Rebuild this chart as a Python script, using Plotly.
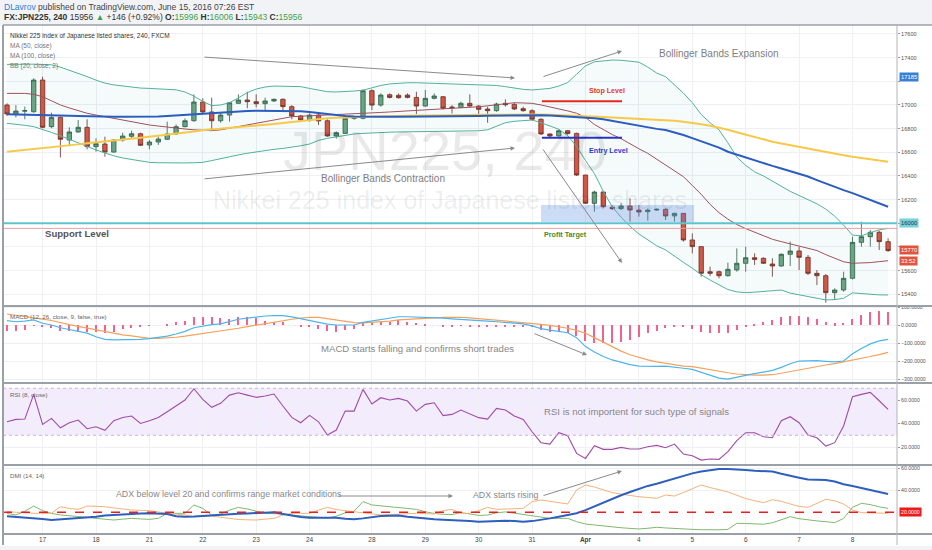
import plotly.graph_objects as go
from plotly.subplots import make_subplots

# ---------------- data ----------------
bars = list(range(100))

opens = [17000,16921,16948,16943,17211,16817,16895,16704,16772,16811,
         16648,16670,16602,16704,16735,16757,16662,16687,16710,16755,
         16817,16867,17025,16941,16867,16915,17014,17042,17028,17011,
         17034,17048,16986,16907,16873,16915,16867,16738,16760,16887,
         16887,17121,16999,17087,17082,17084,17064,16991,17056,17070,
         16983,16980,17014,16991,16966,16952,17014,17005,16969,16952,
         16879,16755,16738,16783,16760,16408,16169,16264,16135,16124,
         16146,16112,16098,16112,16118,16062,16084,15859,15803,15591,
         15591,15557,15606,15662,15709,15704,15656,15639,15738,15766,
         15712,15577,15557,15414,15436,15535,15839,15887,15924,15845]
highs = [17014,16999,16986,17225,17239,16935,16901,16811,16873,16879,
         16718,16732,16710,16766,16783,16766,16704,16732,16859,16836,
         16887,17090,17056,17062,16935,17025,17090,17112,17090,17062,
         17053,17056,16999,16915,16929,16929,16879,16777,16895,16905,
         17132,17132,17098,17098,17098,17098,17112,17127,17098,17076,
         16999,17028,17090,16999,16986,17019,17048,17019,16986,16963,
         16887,16760,16794,16788,16766,16408,16276,16267,16155,16169,
         16211,16155,16126,16126,16126,16090,16084,15915,15803,15634,
         15600,15667,15788,15802,15746,15712,15704,15746,15845,15802,
         15732,15605,15571,15450,15591,15887,16014,15943,15938,15873]
lows = [16907,16895,16879,16935,16803,16803,16557,16653,16766,16625,
        16605,16563,16597,16690,16718,16653,16625,16662,16704,16746,
        16811,16859,16929,16780,16850,16859,17008,16972,16980,16957,
        17025,16957,16879,16859,16859,16831,16732,16715,16755,16875,
        16879,16957,16986,17056,17053,17056,16924,16986,17048,16963,
        16929,16972,16986,16915,16850,16943,16986,16957,16943,16867,
        16746,16726,16732,16749,16400,16163,16098,16126,16112,16112,
        16014,16056,16022,16107,16028,16014,15845,15746,15549,15555,
        15535,15549,15591,15591,15648,15656,15549,15634,15639,15605,
        15563,15478,15329,15352,15422,15526,15802,15802,15774,15760]
closes = [16924,16949,16952,17211,16811,16895,16710,16772,16811,16648,
          16673,16602,16704,16738,16757,16659,16687,16712,16755,16817,
          16867,17025,16941,16867,16915,17019,17042,17028,17011,17034,
          17048,16986,16907,16873,16915,16865,16738,16766,16887,16890,
          17121,16999,17084,17064,17062,17064,16991,17056,17076,16972,
          16978,17014,16991,16963,16952,17008,17002,16966,16952,16879,
          16755,16738,16783,16760,16408,16169,16264,16140,16124,16146,
          16112,16095,16112,16118,16062,16084,15859,15803,15577,15577,
          15557,15611,15662,15709,15695,15662,15639,15738,15766,15712,
          15577,15557,15414,15436,15535,15839,15887,15924,15845,15769]

ma50 = [16921,16920,16919,16917,16915,16913,16911,16909,16906,16903,
        16901,16900,16900,16900,16900,16900,16901,16903,16907,16912,
        16917,16923,16929,16933,16938,16943,16946,16949,16952,16952,
        16952,16952,16950,16946,16940,16932,16922,16912,16906,16903,
        16901,16901,16901,16901,16901,16901,16902,16902,16903,16903,
        16904,16905,16906,16907,16908,16910,16912,16914,16915,16915,
        16914,16911,16907,16903,16898,16893,16888,16880,16866,16852,
        16838,16823,16810,16798,16788,16768,16746,16720,16695,16668,
        16640,16605,16580,16555,16530,16507,16485,16463,16442,16422,
        16395,16365,16335,16305,16280,16255,16225,16195,16167,16140]
ma100 = [16605,16612,16620,16628,16636,16642,16650,16658,16667,16676,
         16685,16692,16700,16708,16716,16724,16732,16740,16746,16755,
         16765,16775,16786,16792,16800,16807,16813,16820,16826,16831,
         16839,16848,16857,16866,16875,16882,16888,16892,16895,16897,
         16899,16901,16903,16905,16907,16908,16910,16911,16912,16913,
         16914,16915,16916,16917,16918,16919,16920,16920,16920,16920,
         16919,16917,16915,16913,16910,16906,16902,16899,16895,16891,
         16887,16883,16879,16876,16873,16866,16858,16850,16838,16824,
         16810,16790,16770,16750,16728,16706,16690,16675,16660,16647,
         16632,16617,16602,16588,16575,16562,16550,16540,16530,16521]
bb_upper = [17343,17345,17345,17345,17343,17340,17320,17295,17270,17240,
            17210,17185,17170,17160,17150,17143,17140,17136,17132,17128,
            17110,17075,17030,16995,17000,17020,17060,17105,17135,17152,
            17160,17160,17158,17155,17140,17125,17112,17110,17112,17118,
            17125,17145,17165,17178,17185,17188,17188,17186,17184,17183,
            17180,17178,17175,17172,17170,17165,17155,17142,17132,17127,
            17132,17140,17160,17190,17260,17330,17365,17375,17380,17378,
            17372,17362,17320,17270,17239,17170,17100,17020,16920,16850,
            16790,16680,16560,16490,16435,16400,16355,16310,16270,16235,
            16200,16165,16120,16060,15985,15900,15895,15920,15945,15957]
bb_basis = [17098,17098,17098,17090,17070,17035,17000,16975,16950,16930,
            16915,16900,16887,16872,16858,16845,16831,16822,16812,16803,
            16797,16790,16786,16783,16790,16805,16817,16830,16845,16859,
            16873,16887,16901,16905,16908,16911,16915,16918,16922,16926,
            16929,16933,16937,16941,16945,16949,16953,16956,16960,16965,
            16970,16975,16980,16985,16993,17002,17012,17019,17017,17014,
            17000,16985,16965,16950,16930,16895,16835,16790,16750,16715,
            16670,16630,16591,16540,16490,16440,16394,16320,16245,16160,
            16090,16035,15990,15955,15925,15895,15865,15845,15825,15805,
            15785,15770,15735,15705,15675,15662,15662,15668,15676,15684]
bb_lower = [16845,16838,16828,16817,16795,16768,16740,16710,16675,16645,
            16620,16595,16570,16552,16540,16528,16515,16512,16510,16510,
            16510,16512,16515,16530,16548,16563,16578,16592,16605,16615,
            16625,16633,16642,16655,16670,16700,16718,16732,16745,16755,
            16760,16765,16768,16770,16772,16773,16774,16774,16774,16774,
            16774,16774,16777,16782,16790,16820,16850,16862,16870,16873,
            16850,16825,16795,16740,16650,16530,16420,16270,16140,16050,
            15975,15910,15860,15810,15775,15720,15670,15620,15565,15520,
            15480,15440,15420,15414,15418,15425,15432,15436,15410,15394,
            15380,15365,15352,15355,15366,15412,15405,15398,15395,15394]

macd = [24,18,22,28,10,0,-15,-24,-35,-45,
        -65,-80,-82,-82,-80,-80,-76,-70,-62,-50,
        -35,-15,-5,2,6,18,32,38,45,50,
        52,52,45,35,28,18,5,0,-2,0,
        15,22,30,38,46,46,45,43,42,38,
        34,32,30,28,22,18,14,10,6,-5,
        -20,-28,-35,-43,-70,-120,-150,-175,-194,-208,
        -220,-228,-230,-230,-228,-232,-240,-246,-262,-280,
        -295,-300,-292,-280,-270,-262,-252,-235,-215,-200,
        -198,-198,-202,-205,-200,-160,-130,-105,-88,-80]
signal = [61,55,48,40,33,25,12,2,-8,-18,
          -28,-38,-46,-55,-60,-68,-74,-74,-72,-68,
          -62,-55,-48,-42,-35,-27,-18,-9,0,8,
          18,26,32,38,43,42,35,28,20,13,
          12,14,18,22,28,32,35,38,40,42,
          43,43,40,36,32,28,24,20,16,10,
          4,-2,-8,-18,-30,-46,-70,-95,-120,-145,
          -165,-180,-194,-205,-213,-222,-228,-231,-240,-250,
          -258,-265,-272,-276,-278,-278,-276,-268,-258,-250,
          -240,-230,-222,-214,-205,-196,-185,-175,-164,-152]
macd_hist = [-31,-31,-28,-5,-13,-18,-31,-31,-37,-41,
             -41,-46,-41,-24,-15,-9,-2,0,6,15,
             24,43,43,43,37,33,43,43,37,24,
             18,18,0,-6,-13,-24,-33,-37,-28,-24,
             9,15,18,18,28,18,13,6,0,-6,
             -6,-2,-6,-9,-9,-9,-6,-6,-9,-13,
             -28,-37,-41,-46,-61,-87,-98,-102,-98,-93,
             -83,-68,-46,-31,-18,-9,-13,-24,-37,-46,
             -46,-42,-28,-9,6,15,28,43,50,50,
             43,33,18,9,13,33,56,70,78,70]
rsi = [41.5,43.5,43.8,64.8,39.3,44.4,36.4,40.7,43.0,35.6,
       37.3,34.2,42.4,45.2,46.4,40.1,42.4,45.2,50.0,55.2,
       60.0,69.6,60.6,53.8,57.2,64.2,66.2,64.2,62.3,63.4,
       65.1,54.9,45.2,40.7,46.9,41.5,30.2,34.5,50.6,50.6,
       69.1,56.6,62.0,60.0,61.4,59.1,50.6,56.3,57.7,46.7,
       47.8,51.5,48.0,45.0,43.8,52.9,51.5,46.4,43.5,33.0,
       23.7,22.5,32.2,29.6,14.6,10.3,21.1,18.0,18.0,19.7,
       18.3,18.3,20.3,21.4,19.4,22.5,14.0,12.6,8.9,9.8,
       9.5,16.0,25.4,32.2,32.2,28.8,27.9,42.4,45.8,40.7,
       30.2,27.9,20.8,23.7,37.9,62.8,64.8,66.5,59.4,52.1]
adx = [16.5,16,15,14.5,14,13,13.5,14,14.5,15,
       16,17,17.6,18,18.5,19,19.1,19,18.5,16.5,
       16,16.2,16.8,17.4,17.8,18.2,18.6,19,19.5,19.8,
       20,18.5,17,15.8,15.1,15.2,15.4,15,14.2,13.6,
       14.5,15.8,16.7,16.8,17,16,15,14,13.6,13.2,
       13,12.6,12,11.5,11.8,12.2,12.4,12,11.5,12,
       13,14.5,16,17.5,19.1,22,25.5,29,32.5,35.5,
       38.5,41.5,44,46,48.5,50.9,53,55.4,57,58.5,
       59.4,59.4,59.1,58.5,57.8,57.5,57,55,53,51.5,
       49.8,49.4,49.4,48,45.5,43.9,42,40,38.3,36.7]
di_plus = [19,17.6,21,25.7,21.5,19,17.6,17,16.5,15.5,
           14.5,13.5,13,13.8,14.5,14,13.6,14.5,19.1,19.1,
           19.1,26.7,23.6,17.5,18.5,22,24.5,23,21,19.1,
           18.8,18.5,17.5,16.8,16,15.5,14.8,16.5,19.5,21,
           29.7,26.7,26,25.2,24.5,23.5,22.7,20.5,19,18.2,
           18,19.7,18.5,17.2,17.5,19.5,20.4,19.2,17.8,16.5,
           15.2,14.5,14.5,14.5,11.5,9.4,8.5,7.5,6.6,6,
           5.4,4.9,5.5,6.4,5.8,5.2,4.8,4.5,4.2,3.9,
           4.1,4.5,10,9.8,9.5,9.2,10.5,13.5,16,14.2,
           13,12.2,11.5,10.6,14.5,24.5,28.2,27,25,23.6]
di_minus = [20.6,20,19.5,19.1,19.1,19.1,25.1,23.5,22.7,25.7,
            25.5,25.1,24,23,22.1,21.8,21.5,20.3,19.1,18.3,
            17.6,16,16.3,16.7,15.5,14.2,13.5,13.2,13,13.8,
            14.5,17.5,19.1,19.1,19.1,22,24.5,22.5,21.5,20.2,
            19.1,18.3,17.6,18,18.4,18.8,19.1,18.8,18.5,21.5,
            22.7,19.1,19.1,21.5,24.5,22.7,23,23.3,23.6,29.7,
            31.2,30,29.1,27.6,40.3,44.8,43,40.5,37.9,36.5,
            35.2,34.2,33.5,32.7,35.7,34.8,38,41.5,44.8,42.5,
            40.5,38.5,35.5,32.5,30.5,28.8,31.5,30,27.6,25.3,
            24.5,28,31.8,30.5,27.5,22,19.7,19.5,19.3,19.1]

date_tick_bars = [4, 10, 16, 22, 28, 34, 41, 47, 53, 59, 65, 71, 77, 83, 89, 95]
date_tick_labels = ["17", "18", "21", "22", "23", "24", "28", "29", "30", "31",
                    "<b>Apr</b>", "4", "5", "6", "7", "8"]
price_ticks = [15400, 15600, 15800, 16000, 16200, 16400, 16600, 16800,
               17000, 17200, 17400, 17600]
price_tick_labels = ["15400", "15600", "", "", "16200", "16400", "16600", "16800",
                     "17000", "", "17400", "17600"]
macd_ticks = [-300, -200, -100, 0, 100]
rsi_ticks = [20, 40, 60]
dmi_ticks = [40, 60]

support_level = 16000
last_price = 15957
stop_level = 17032
entry_level = 16722
adx_level = 20
rsi_upper, rsi_lower = 70, 30

# ---------------- layout helpers ----------------
W, H = 932, 550
ML, MR, MT, MB = 3, 35, 25, 16
PW = W - ML - MR
PH = H - MT - MB


def px(x):
    return (x - ML) / PW


def py(y):
    return (H - MB - y) / PH


FONT = "Liberation Sans"
GRID = "#eef0f3"

fig = make_subplots(rows=4, cols=1, shared_xaxes=True, vertical_spacing=0)

# Bollinger fill + lines
fig.add_trace(go.Scatter(x=bars, y=bb_upper, mode="lines",
                         line=dict(color="#52b29c", width=1), hoverinfo="skip"), 1, 1)
fig.add_trace(go.Scatter(x=bars, y=bb_lower, mode="lines", fill="tonexty",
                         fillcolor="rgba(80,170,160,0.055)",
                         line=dict(color="#52b29c", width=1), hoverinfo="skip"), 1, 1)
fig.add_trace(go.Scatter(x=bars, y=bb_basis, mode="lines",
                         line=dict(color="#a0525e", width=1), hoverinfo="skip"), 1, 1)
fig.add_trace(go.Scatter(x=bars, y=ma100, mode="lines",
                         line=dict(color="#f7c948", width=2), hoverinfo="skip"), 1, 1)
fig.add_trace(go.Scatter(x=bars, y=ma50, mode="lines",
                         line=dict(color="#2a5dbf", width=2), hoverinfo="skip"), 1, 1)
fig.add_trace(go.Candlestick(
    x=bars, open=opens, high=highs, low=lows, close=closes,
    increasing=dict(fillcolor="#6ba583", line=dict(color="#2f5a40", width=0.8)),
    decreasing=dict(fillcolor="#d75442", line=dict(color="#6b2a20", width=0.8)),
    whiskerwidth=0), 1, 1)

# MACD
fig.add_trace(go.Bar(x=bars, y=macd_hist, width=0.14,
                     marker=dict(color="#f0648c", line=dict(width=0))), 2, 1)
fig.add_trace(go.Scatter(x=bars, y=signal, mode="lines",
                         line=dict(color="#f5a15c", width=1.2)), 2, 1)
fig.add_trace(go.Scatter(x=bars, y=macd, mode="lines",
                         line=dict(color="#4db4ea", width=1.2)), 2, 1)

# RSI
fig.add_trace(go.Scatter(x=bars, y=rsi, mode="lines",
                         line=dict(color="#a04ca6", width=1.1)), 3, 1)

# DMI
fig.add_trace(go.Scatter(x=bars, y=di_plus, mode="lines",
                         line=dict(color="#82b86e", width=1)), 4, 1)
fig.add_trace(go.Scatter(x=bars, y=di_minus, mode="lines",
                         line=dict(color="#f2b27a", width=1)), 4, 1)
fig.add_trace(go.Scatter(x=bars, y=adx, mode="lines",
                         line=dict(color="#2d5fbd", width=2)), 4, 1)

# axes
doms = [(py(306), 1.0), (py(383), py(306)), (py(465), py(383)), (0.0, py(465))]
xr = [-0.45, 100.0]
for r in range(1, 5):
    fig.update_xaxes(range=xr, showgrid=True, gridcolor=GRID, gridwidth=1,
                     tickvals=date_tick_bars, ticktext=date_tick_labels,
                     showticklabels=(r == 4), ticks="", zeroline=False,
                     showline=False, rangeslider_visible=False,
                     tickfont=dict(family=FONT, size=6.5, color="#444"),
                     row=r, col=1)
    fig.update_yaxes(side="right", domain=list(doms[r - 1]), showgrid=True,
                     gridcolor=GRID, zeroline=False, showline=False,
                     ticks="outside", ticklen=2, tickcolor="#999",
                     tickfont=dict(family=FONT, size=5.2, color="#555"),
                     row=r, col=1)

fig.update_yaxes(range=[15301, 17676], tickvals=price_ticks,
                 ticktext=price_tick_labels, tickfont=dict(size=5.6), row=1, col=1)
fig.update_yaxes(range=[-322, 105.6], tickvals=macd_ticks, tickformat=".4f", row=2, col=1)
fig.update_yaxes(range=[4.7, 74.5], tickvals=rsi_ticks, tickformat=".4f", row=3, col=1)
fig.update_yaxes(range=[0.3, 63], tickvals=dmi_ticks, tickformat=".4f", row=4, col=1)

shapes = []
# header background
shapes.append(dict(type="rect", xref="paper", yref="paper", x0=px(0), x1=px(W),
                   y0=py(25), y1=py(0), fillcolor="#f1f3f6", line=dict(width=0), layer="above"))
shapes.append(dict(type="rect", xref="paper", yref="paper", x0=px(0), x1=px(W),
                   y0=py(550), y1=py(546), fillcolor="#f1f3f6", line=dict(width=0), layer="above"))
# RSI band
shapes.append(dict(type="rect", xref="x3 domain", yref="y3", x0=0, x1=1,
                   y0=rsi_lower, y1=rsi_upper, fillcolor="rgba(170,120,235,0.14)",
                   line=dict(width=0), layer="below"))
for lv in (rsi_lower, rsi_upper):
    shapes.append(dict(type="line", xref="x3 domain", yref="y3", x0=0, x1=1, y0=lv, y1=lv,
                       line=dict(color="#c9b3e3", width=1, dash="dot")))
# ADX 20 level
shapes.append(dict(type="line", xref="x4 domain", yref="y4", x0=0, x1=1,
                   y0=adx_level, y1=adx_level, line=dict(color="#ee1c1c", width=1.5, dash="dash")))
# support and last price lines
shapes.append(dict(type="line", xref="x domain", yref="y", x0=0, x1=1,
                   y0=support_level, y1=support_level, line=dict(color="#5cc4cf", width=2)))
shapes.append(dict(type="line", xref="x domain", yref="y", x0=0, x1=1,
                   y0=last_price, y1=last_price, line=dict(color="#eba0a0", width=1)))
# stop / entry
shapes.append(dict(type="line", xref="x", yref="y", x0=60.1, x1=69.1,
                   y0=stop_level, y1=stop_level, line=dict(color="#e8281e", width=2)))
shapes.append(dict(type="line", xref="x", yref="y", x0=60.1, x1=69.1,
                   y0=entry_level, y1=entry_level, line=dict(color="#2a34c9", width=2)))
# profit target box
shapes.append(dict(type="rect", xref="x", yref="y", x0=60.0, x1=77.2, y0=16011, y1=16155,
                   fillcolor="rgba(90,140,225,0.30)", line=dict(width=0)))
# borders / separators
SEP = "#9aa0a8"
for yy in (306, 383, 465, 534):
    shapes.append(dict(type="line", xref="paper", yref="paper", x0=px(3), x1=px(W),
                       y0=py(yy), y1=py(yy), line=dict(color=SEP, width=2)))
shapes.append(dict(type="line", xref="paper", yref="paper", x0=px(3), x1=px(W),
                   y0=py(25), y1=py(25), line=dict(color=SEP, width=1.5)))
shapes.append(dict(type="line", xref="paper", yref="paper", x0=px(3), x1=px(3),
                   y0=py(545), y1=py(25), line=dict(color=SEP, width=2)))
shapes.append(dict(type="line", xref="paper", yref="paper", x0=px(897), x1=px(897),
                   y0=py(545), y1=py(25), line=dict(color="#b0b5bb", width=1)))

ann = []


def text(x, y, s, size=10, color="#777", anchor="left", family=FONT, bg=None):
    d = dict(xref="paper", yref="paper", x=px(x), y=py(y), text=s, showarrow=False,
             xanchor=anchor, yanchor="middle",
             font=dict(family=family, size=size, color=color))
    if bg:
        d.update(bgcolor=bg, borderpad=1)
    ann.append(d)


def arrow(x0, y0, x1, y1, head=True):
    ann.append(dict(xref="paper", yref="paper", x=px(x1), y=py(y1),
                    axref="pixel", ayref="pixel", ax=x0 - x1, ay=y0 - y1,
                    text="", showarrow=True, arrowhead=2 if head else 0,
                    arrowsize=0.9, arrowwidth=1, arrowcolor="#8a8a8a"))


# header
text(2, 7, "<span style='color:#2f7fd6'>DLavrov</span> published on TradingView.com, June 15, 2016 07:26 EST",
     size=8.5, color="#444")
G = "#3f9f4a"
text(2, 17, "<b>FX:JPN225, 240</b> 15956 <span style='color:%s'>▲</span> +146 (+0.92%%) "
     "<b>O:</b><span style='color:%s'>15996</span> <b>H:</b><span style='color:%s'>16006</span> "
     "<b>L:</b><span style='color:%s'>15943</span> <b>C:</b><span style='color:%s'>15956</span>"
     % (G, G, G, G, G), size=8.5, color="#333")

# watermark
text(445, 150, "JPN225, 240", size=56, color="rgba(0,0,0,0.085)", anchor="center")
text(450, 200, "Nikkei 225 index of Japanese listed shares", size=25,
     color="rgba(0,0,0,0.085)", anchor="center")

# legends
text(8, 36, "Nikkei 225 index of Japanese listed shares, 240, FXCM", size=6.5, color="#333")
text(8, 46, "MA (50, close)", size=6.5, color="#777")
text(8, 56, "MA (100, close)", size=6.5, color="#777")
text(8, 66, "BB (20, close, 2)", size=6.5, color="#777")
text(8, 316, "MACD (12, 26, close, 9, false, true)", size=6.2, color="#666")
text(8, 394, "RSI (8, close)", size=6.2, color="#666")
text(8, 475, "DMI (14, 14)", size=6.2, color="#666")

# commentary
text(657, 53, "Bollinger Bands Expansion", size=10, color="#808080")
text(319, 178, "Bollinger Bands Contraction", size=10, color="#808080")
text(319, 348, "MACD starts falling and confirms short trades", size=9.6, color="#888")
text(542, 411, "RSI is not importent for such type of signals", size=9.6, color="#888")
text(114, 494, "ADX below level 20 and confirms range market conditions", size=8.8, color="#888")
text(471, 495, "ADX starts rising", size=8.8, color="#888")
text(43, 233, "<b>Support Level</b>", size=9.6, color="#555")
text(587, 91, "<b>Stop Level</b>", size=7.1, color="#e8362a")
text(587, 150, "<b>Entry Level</b>", size=7.2, color="#2a3bd0")
text(542, 235, "<b>Profit Target</b>", size=7.2, color="#4b8a2a")

arrow(203, 57, 515, 78)
arrow(542, 77, 622, 51)
arrow(203, 179, 515, 148)
arrow(542, 148, 622, 263)
arrow(533, 333, 587, 355)
arrow(337, 496, 453, 496)
arrow(542, 496, 622, 471)

# right side value boxes
text(899, 77, "17185", size=5.8, color="white", bg="#3b7fd4")
text(899, 223, "16000", size=5.8, color="#234", bg="#74d1d9")
text(899, 250, "15770", size=5.8, color="white", bg="#e0533d")
text(899, 261, "33:52", size=5.8, color="white", bg="#e0533d")
text(899, 512, "20.0000", size=5.2, color="white", bg="#f01818")

fig.update_layout(
    width=W, height=H, autosize=False,
    margin=dict(l=ML, r=MR, t=MT, b=MB),
    paper_bgcolor="white", plot_bgcolor="white",
    showlegend=False, shapes=shapes, annotations=ann,
    bargap=0, font=dict(family=FONT),
)

fig.write_html("out.html", config={"displayModeBar": False},
               post_script="document.body.style.margin='0px';document.body.style.padding='0px';")
